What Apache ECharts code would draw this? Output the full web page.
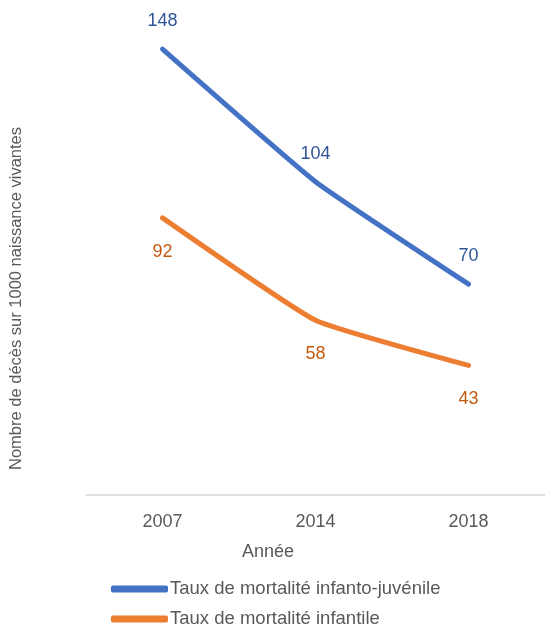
<!DOCTYPE html>
<html><head><meta charset="utf-8">
<script src="https://cdn.jsdelivr.net/npm/echarts@6/dist/echarts.min.js"></script>
<style>html,body{margin:0;padding:0;background:#fff}#c{width:545px;height:626px}</style>
</head><body><div id="c"></div>
<script>
const categories = ['2007', '2014', '2018'];
const infantoJuvenile = [148, 104, 70];
const infantile = [92, 58, 43];
const seriesNames = ['Taux de mortalité infanto-juvénile', 'Taux de mortalité infantile'];
const xTitle = 'Année';
const yTitle = 'Nombre de décès sur 1000 naissance vivantes';

const FONT = 'Liberation Sans';
const legendText = {fontFamily: FONT, fontSize: 18.5, color: '#595959', lineHeight: 22, padding: [0, 0, 0, -3]};
const chart = echarts.init(document.getElementById('c'), null, {renderer: 'canvas'});
chart.setOption({
  animation: false,
  textStyle: {fontFamily: FONT},
  grid: {left: 86, right: -5, top: 13, bottom: 131},
  legend: [
    {left: 111, top: 578, padding: 0, itemWidth: 57, itemHeight: 7, icon: 'roundRect', textStyle: legendText, data: [seriesNames[0]]},
    {left: 111, top: 608, padding: 0, itemWidth: 57, itemHeight: 7, icon: 'roundRect', textStyle: legendText, data: [seriesNames[1]]}
  ],
  xAxis: {
    type: 'category', data: categories,
    axisLine: {lineStyle: {color: '#D9D9D9', width: 1.5}},
    axisTick: {show: false},
    axisLabel: {fontFamily: FONT, fontSize: 18, color: '#595959', margin: 18}
  },
  yAxis: {type: 'value', min: 0, max: 160, show: false, splitLine: {show: false}},
  graphic: [
    {type: 'text', left: 242, top: 543, style: {text: xTitle, font: '18px "' + FONT + '"', fill: '#595959'}},
    {type: 'text', x: 8, y: 470, rotation: Math.PI / 2, style: {text: yTitle, font: '16.5px "' + FONT + '"', fill: '#595959'}}
  ],
  series: [
    {
      name: seriesNames[0], type: 'line', data: infantoJuvenile, smooth: 0.12,
      symbol: 'circle', symbolSize: 2, showSymbol: true,
      lineStyle: {color: '#4472C4', width: 5, cap: 'round'}, itemStyle: {color: '#4472C4'},
      label: {show: true, position: 'top', distance: 18, fontFamily: FONT, fontSize: 18, color: '#2F5597'}
    },
    {
      name: seriesNames[1], type: 'line', data: infantile, smooth: 0.12,
      symbol: 'circle', symbolSize: 2, showSymbol: true,
      lineStyle: {color: '#ED7D31', width: 5, cap: 'round'}, itemStyle: {color: '#ED7D31'},
      label: {show: true, position: 'bottom', distance: 24, fontFamily: FONT, fontSize: 18, color: '#C55A11'}
    }
  ]
});
</script></body></html>
